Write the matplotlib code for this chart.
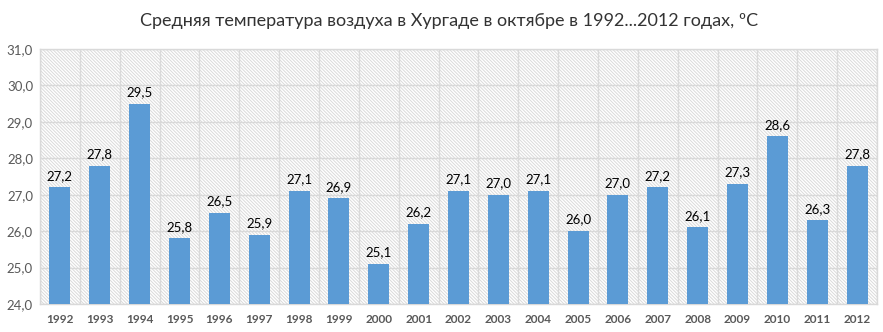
import numpy as np
import matplotlib.pyplot as plt

plt.rcParams['font.family'] = ['Lato', 'DejaVu Sans']
plt.rcParams['hatch.color'] = '#dadada'
plt.rcParams['hatch.linewidth'] = 0.7

years = [str(y) for y in range(1992, 2013)]
temps = [27.2, 27.8, 29.5, 25.8, 26.5, 25.9, 27.1, 26.9, 25.1, 26.2, 27.1,
         27.0, 27.1, 26.0, 27.0, 27.2, 26.1, 27.3, 28.6, 26.3, 27.8]
yticks = np.arange(24.0, 31.5, 1.0)

fig = plt.figure(figsize=(8.83, 3.32), dpi=100)
ax = fig.add_axes([40 / 883, 28 / 332, 837 / 883, 255 / 332])

x = np.arange(len(years))
# background: fine diagonal hatch
ax.patch.set_facecolor('white')
ax.patch.set_hatch('\\' * 10)
ax.patch.set_edgecolor('#dadada')

ax.bar(x, np.array(temps) - yticks[0], bottom=yticks[0], width=0.53,
       color='#5b9bd5', zorder=3)
for xi, t in zip(x, temps):
    ax.annotate(f'{t:.1f}'.replace('.', ','), (xi, t), xytext=(0, 4),
                textcoords='offset points', ha='center', va='bottom',
                fontsize=9.5, color='black', zorder=4)

ax.set_xlim(-0.5, len(years) - 0.5)
ax.set_ylim(yticks[0], yticks[-1])
ax.set_yticks(yticks)
ax.set_yticklabels([f'{v:.1f}'.replace('.', ',') for v in yticks],
                   fontsize=9.5, color='#595959')
ax.set_xticks(x)
ax.set_xticklabels(years, fontsize=8.5, fontweight='bold', color='#595959')
ax.set_xticks(np.arange(-0.5, len(years), 1.0), minor=True)
ax.tick_params(axis='both', which='both', length=0)
ax.tick_params(axis='x', pad=7)
ax.tick_params(axis='y', pad=5)

ax.grid(axis='y', which='major', color='#d9d9d9', linewidth=1, zorder=1)
ax.grid(axis='x', which='minor', color='#d9d9d9', linewidth=1, zorder=1)
ax.set_axisbelow(True)
for s in ax.spines.values():
    s.set_color('#d9d9d9')
    s.set_linewidth(1)

fig.text(0.508, 0.937, 'Средняя температура воздуха в Хургаде в октябре в 1992...2012 годах, ºС',
         ha='center', va='center', fontsize=13, color='#333333')

fig.savefig('out.png', dpi=100)
